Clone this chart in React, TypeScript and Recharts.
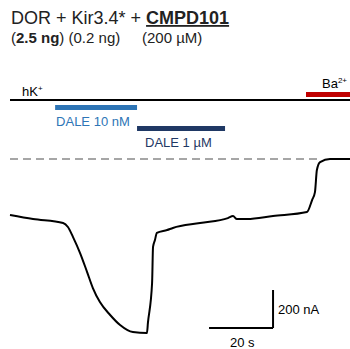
import { LineChart, Line, XAxis, YAxis, ReferenceLine, ReferenceDot } from 'recharts'

// trace: time (s) vs current (nA)
const time = [0, 7.2, 16.6, 18.1, 19.7, 21.9, 24.1, 25.9, 28.1, 31.3, 34.4, 38.4, 42.8, 43.1, 44.4, 44.7, 45.3, 45.9, 49.1, 50.9, 59.4, 68.1, 69.7, 70.9, 74.1, 82.2, 92.8, 94.4, 95.3, 95.9, 96.9, 100, 106.25]
const current = [-295, -316, -337, -358, -411, -495, -595, -679, -753, -821, -874, -911, -916, -863, -653, -463, -426, -389, -374, -363, -337, -311, -300, -316, -316, -300, -279, -216, -174, -58, -16, 0, 0]

// application bars (start, end in s)
const hkApplied = [0, 106.25]
const daleLow = [14.1, 39.7]
const daleHigh = [39.7, 67.2]
const bariumApplied = [92.5, 106.25]

// bar levels (nA units above baseline, drawing lanes)
const hkLevel = 310.5
const bariumLevel = 339
const daleLowLevel = 271
const daleHighLevel = 160.5

// scale bar: 20 s x 200 nA
const scaleTime = [62.2, 82.2]
const scaleCurrent = [-889.5, -689.5]

const trace = time.map((t, i) => ({ t, i: current[i] }))

const font = 'Liberation Sans, Arial, sans-serif'

function label(text: string, color: string, sup?: string) {
  return (props: any) => (
    <text x={props.cx} y={props.cy} fill={color} fontSize={13} fontFamily={font}>
      {text}
      {sup ? <tspan fontSize={8} dy={-5}>{sup}</tspan> : null}
    </text>
  )
}

export default function App() {
  return (
    <div style={{ position: 'absolute', left: 0, top: 0, width: 350, height: 349, background: '#fff' }}>
      <svg width={350} height={60} style={{ position: 'absolute', left: 0, top: 0 }}>
        <text x={11} y={24} fontSize={18} fontFamily={font} fill="#222">
          DOR + Kir3.4* + <tspan fontWeight="bold" textDecoration="underline">CMPD101</tspan>
        </text>
        <text x={11} y={43} fontSize={15} fontFamily={font} fill="#222">
          (<tspan fontWeight="bold">2.5 ng</tspan>) (0.2 ng)
          <tspan x={142}>(200 µM)</tspan>
        </text>
      </svg>
      <LineChart width={350} height={349} data={trace} margin={{ top: 0, right: 0, bottom: 0, left: 0 }}>
        <XAxis type="number" dataKey="t" domain={[-3.125, 106.25]} hide allowDataOverflow />
        <YAxis type="number" domain={[-1000, 836.84]} hide allowDataOverflow />

        <ReferenceLine segment={[{ x: hkApplied[0], y: hkLevel }, { x: hkApplied[1], y: hkLevel }]} stroke="#000" strokeWidth={2} />
        <ReferenceLine segment={[{ x: bariumApplied[0], y: bariumLevel }, { x: bariumApplied[1], y: bariumLevel }]} stroke="#c00000" strokeWidth={5} />
        <ReferenceLine segment={[{ x: daleLow[0], y: daleLowLevel }, { x: daleLow[1], y: daleLowLevel }]} stroke="#2e75b6" strokeWidth={5} />
        <ReferenceLine segment={[{ x: daleHigh[0], y: daleHighLevel }, { x: daleHigh[1], y: daleHighLevel }]} stroke="#1f3864" strokeWidth={5} />

        <ReferenceLine segment={[{ x: 0, y: 0 }, { x: 96.9, y: 0 }]} stroke="#a6a6a6" strokeWidth={2} strokeDasharray="8 5" />

        <ReferenceLine segment={[{ x: scaleTime[0], y: scaleCurrent[0] }, { x: scaleTime[1], y: scaleCurrent[0] }]} stroke="#000" strokeWidth={2} />
        <ReferenceLine segment={[{ x: scaleTime[1], y: scaleCurrent[0] }, { x: scaleTime[1], y: scaleCurrent[1] }]} stroke="#000" strokeWidth={2} />

        <ReferenceDot x={3.75} y={331.6} r={0} shape={label('hK', '#000', '+')} />
        <ReferenceDot x={97.5} y={373.7} r={0} shape={label('Ba', '#000', '2+')} />
        <ReferenceDot x={14.4} y={173.7} r={0} shape={label('DALE 10 nM', '#2e75b6')} />
        <ReferenceDot x={42.2} y={63.2} r={0} shape={label('DALE 1 µM', '#1f3864')} />
        <ReferenceDot x={83.75} y={-815.8} r={0} shape={label('200 nA', '#000')} />
        <ReferenceDot x={68.75} y={-989.5} r={0} shape={label('20 s', '#000')} />

        <Line type="monotone" dataKey="i" stroke="#000" strokeWidth={2} dot={false} activeDot={false} isAnimationActive={false} />
      </LineChart>
    </div>
  )
}
